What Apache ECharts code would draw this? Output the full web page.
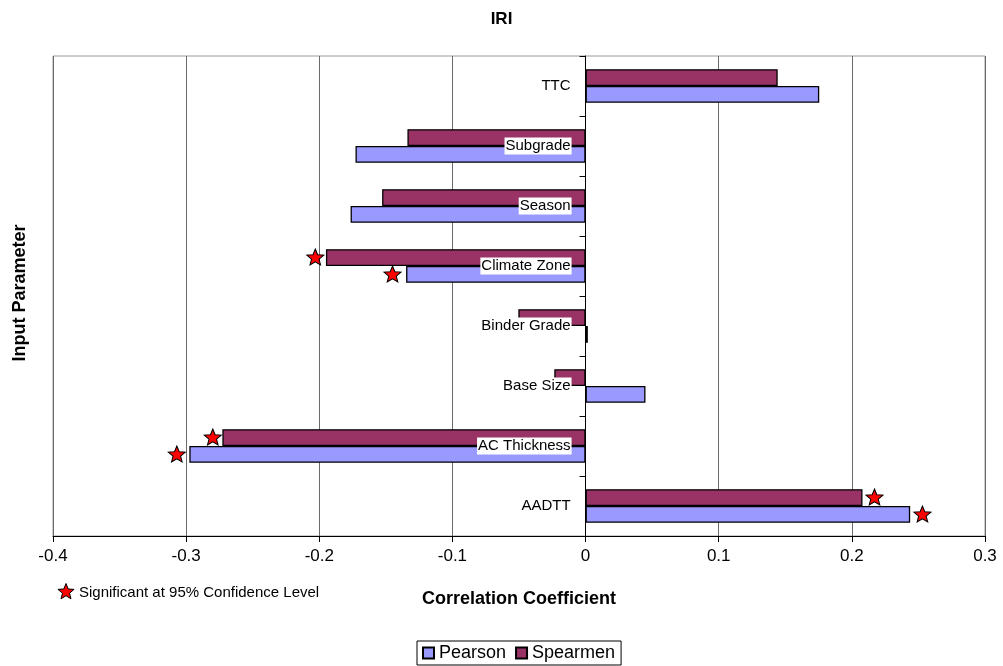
<!DOCTYPE html>
<html>
<head>
<meta charset="utf-8">
<script src="https://cdn.jsdelivr.net/npm/echarts@6/dist/echarts.min.js"></script>
<style>
  html, body { margin: 0; padding: 0; background: #fff; }
  #ch1 { width: 1003px; height: 666px; }
</style>
</head>
<body>
<div id="ch1"></div>
<script>
const categories = ['TTC', 'Subgrade', 'Season', 'Climate Zone', 'Binder Grade', 'Base Size', 'AC Thickness', 'AADTT'];
const pearson = [0.1755, -0.1728, -0.1765, -0.1348, 0.0017, 0.045, -0.2976, 0.2438];
const spearmen = [0.1443, -0.1338, -0.1528, -0.195, -0.0505, -0.0235, -0.2728, 0.208];
// significance stars (x position, category)
const pearsonStars = [[-0.145, 'Climate Zone'], [-0.307, 'AC Thickness'], [0.253, 'AADTT']];
const spearmenStars = [[-0.203, 'Climate Zone'], [-0.280, 'AC Thickness'], [0.217, 'AADTT']];
const xTicks = { min: -0.4, max: 0.3, interval: 0.1 };

const STAR = 'path://M10 0 L12.6 6.5 L19.5 6.9 L14.2 11.4 L15.9 18.1 L10 14.4 L4.1 18.1 L5.8 11.4 L0.5 6.9 L7.4 6.5 Z';
const FONT = 'Liberation Sans, Arial, sans-serif';

const W = 1003;
const gridLeft = 53;
const gridRight = 18;
const plotWidth = W - gridLeft - gridRight;
// the category axis sits on x = 0, labels move with it
const zeroShift = (0 - xTicks.min) / (xTicks.max - xTicks.min) * plotWidth;

// star outline for the note below the chart
function starPoints(cx, cy, R, r) {
  const pts = [];
  for (let i = 0; i < 10; i++) {
    const a = -Math.PI / 2 + i * Math.PI / 5;
    const rad = i % 2 === 0 ? R : r;
    pts.push([cx + rad * Math.cos(a), cy + rad * Math.sin(a)]);
  }
  return pts;
}

const cht1 = echarts.init(document.getElementById('ch1'));

const starStyle = {
  color: '#ff0000',
  borderColor: '#000',
  borderWidth: 1,
  opacity: 1,
};

const options1 = {
  animation: false,
  textStyle: { fontFamily: FONT },
  title: {
    text: 'IRI',
    left: 'center',
    top: 6,
    textStyle: { fontSize: 17, fontWeight: 'bold', color: '#000', fontFamily: FONT },
  },
  legend: {
    data: ['Pearson', 'Spearmen'],
    left: 417,
    bottom: 1,
    orient: 'horizontal',
    itemWidth: 11,
    itemHeight: 11,
    itemGap: 9,
    padding: [3, 6, 3, 5],
    borderColor: '#000',
    borderWidth: 1,
    icon: 'rect',
    textStyle: { fontSize: 18, color: '#000', fontFamily: FONT },
  },
  grid: {
    left: gridLeft,
    right: gridRight,
    top: 56,
    bottom: 130,
    containLabel: false,
    outerBoundsMode: 'none',
    show: true,
    borderColor: '#9a9a9a',
    borderWidth: 1,
  },
  xAxis: {
    type: 'value',
    min: xTicks.min,
    max: xTicks.max,
    interval: xTicks.interval,
    name: 'Correlation Coefficient',
    nameLocation: 'middle',
    nameGap: 54,
    nameTextStyle: { fontSize: 18, fontWeight: 'bold', color: '#000', fontFamily: FONT },
    axisLine: { show: true, onZero: false, lineStyle: { color: '#000', width: 1 } },
    axisTick: { show: true, length: 6, lineStyle: { color: '#000' } },
    axisLabel: { fontSize: 17, color: '#000', margin: 12, fontFamily: FONT },
    splitLine: { show: true, lineStyle: { color: '#6a6a6a', width: 1 } },
  },
  yAxis: {
    type: 'category',
    data: categories,
    inverse: true,
    position: 'left',
    offset: -zeroShift,
    z: 5,
    axisLine: { show: true, onZero: false, lineStyle: { color: '#000', width: 1 } },
    axisTick: { show: true, length: 6, alignWithLabel: false, lineStyle: { color: '#000' } },
    axisLabel: {
      fontSize: 15,
      color: '#000',
      margin: 14,
      backgroundColor: '#fff',
      padding: [1, 1, 1, 1],
      fontFamily: FONT,
    },
    splitLine: { show: false },
  },
  graphic: [
    {
      type: 'text',
      x: 20,
      y: 293,
      rotation: Math.PI / 2,
      style: {
        text: 'Input Parameter',
        font: 'bold 18px ' + FONT,
        fill: '#000',
        align: 'center',
        verticalAlign: 'middle',
      },
    },
    {
      type: 'polygon',
      shape: { points: starPoints(66, 592, 8.5, 3.7) },
      style: { fill: '#ff0000', stroke: '#000', lineWidth: 1 },
    },
    {
      type: 'text',
      x: 79,
      y: 593,
      style: {
        text: 'Significant at 95% Confidence Level',
        font: '15px ' + FONT,
        fill: '#000',
        verticalAlign: 'middle',
      },
    },
  ],
  series: [
    {
      name: 'Spearmen',
      type: 'bar',
      data: spearmen,
      barGap: '0%',
      barCategoryGap: '44%',
      itemStyle: { color: '#993366', borderColor: '#000', borderWidth: 1.3 },
    },
    {
      name: 'Pearson',
      type: 'bar',
      data: pearson,
      barGap: '0%',
      barCategoryGap: '44%',
      itemStyle: { color: '#9999ff', borderColor: '#000', borderWidth: 1.3 },
    },
    {
      name: 'SpearmenSig',
      type: 'scatter',
      data: spearmenStars,
      symbol: STAR,
      symbolSize: [17, 16],
      symbolOffset: [0, -9],
      itemStyle: starStyle,
      z: 4,
    },
    {
      name: 'PearsonSig',
      type: 'scatter',
      data: pearsonStars,
      symbol: STAR,
      symbolSize: [17, 16],
      symbolOffset: [0, 8],
      itemStyle: starStyle,
      z: 4,
    },
  ],
};

cht1.setOption(options1);
</script>
</body>
</html>
